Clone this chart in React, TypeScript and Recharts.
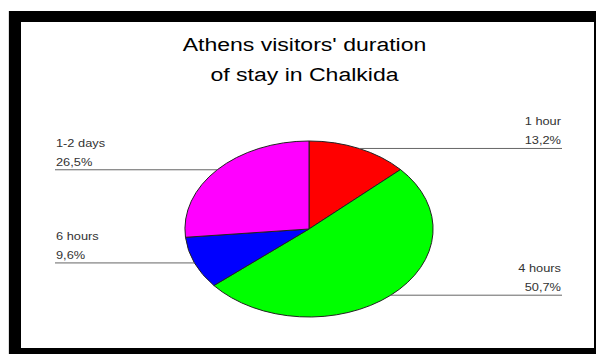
import React from 'react';
import { PieChart, Pie, Cell } from 'recharts';

const categories = ['1 hour', '4 hours', '6 hours', '1-2 days'];
const shares = [13.2, 50.7, 9.6, 26.5];
const colors = ['#ff0000', '#00ff00', '#0000ff', '#ff00ff'];
const titleLines = ["Athens visitors' duration", 'of stay in Chalkida'];

const data = categories.map((name, i) => ({ name, value: shares[i] }));

const W = 596;
const H = 354;
const ASPECT = 1.41;
const TEXT_STRETCH = 1.28;
const RAD = Math.PI / 180;
const FONT = '"Liberation Sans", Arial, sans-serif';

const EllipseSector = (props: any) => {
  const { cx, cy, outerRadius, startAngle, endAngle, fill } = props;
  const rx = outerRadius * ASPECT;
  const ry = outerRadius;
  const pt = (a: number) => [cx + rx * Math.cos(a * RAD), cy - ry * Math.sin(a * RAD)];
  const [x1, y1] = pt(startAngle);
  const [x2, y2] = pt(endAngle);
  const large = Math.abs(endAngle - startAngle) > 180 ? 1 : 0;
  const sweep = endAngle < startAngle ? 1 : 0;
  const d = `M${cx},${cy} L${x1},${y1} A${rx},${ry} 0 ${large} ${sweep} ${x2},${y2} Z`;
  return <path d={d} fill={fill} stroke="#222" strokeWidth={1} />;
};

const renderLabel = (props: any) => {
  const { cx, cy, midAngle, outerRadius, name, value } = props;
  const rx = outerRadius * ASPECT;
  const ry = outerRadius;
  const right = Math.cos(midAngle * RAD) >= 0;
  const y = cy - ry * Math.sin(midAngle * RAD);
  const t = Math.max(-1, Math.min(1, (y - cy) / ry));
  const edge = rx * Math.sqrt(1 - t * t);
  const xEdge = right ? cx + edge : cx - edge;
  const xOut = right ? 562 : 55;
  const anchor = right ? 'end' : 'start';
  const tx = right ? xOut - 1 : xOut + 1;
  const pct = value.toFixed(1).replace('.', ',') + '%';
  return (
    <g>
      <line x1={xEdge} y1={y} x2={xOut} y2={y} stroke="#666" strokeWidth={1} />
      <text
        transform={`translate(${tx},${y - 23}) scale(${TEXT_STRETCH},1)`}
        textAnchor={anchor}
        fontSize={10}
        fontFamily={FONT}
        fill="#333"
      >
        {name}
      </text>
      <text
        transform={`translate(${tx},${y - 4}) scale(${TEXT_STRETCH},1)`}
        textAnchor={anchor}
        fontSize={10}
        fontFamily={FONT}
        fill="#333"
      >
        {pct}
      </text>
    </g>
  );
};

export default function App() {
  return (
    <div style={{ position: 'absolute', left: 0, top: 0, width: W, height: H, background: '#fff', overflow: 'hidden' }}>
      <div style={{ position: 'absolute', left: 8, top: 11, width: 1, height: H - 11, background: '#ddd' }} />
      <div style={{ position: 'absolute', left: 9, top: 11, width: W - 9, height: H - 11, background: '#000' }} />
      <div style={{ position: 'absolute', left: 21, top: 22, width: 594 - 21, height: 348 - 22, background: '#fff' }} />
      <div style={{ position: 'absolute', left: 0, top: 0 }}>
        <PieChart width={W} height={H} margin={{ top: 0, right: 0, bottom: 0, left: 0 }}>
          <Pie
            data={data}
            dataKey="value"
            nameKey="name"
            cx={309}
            cy={229}
            outerRadius={88}
            startAngle={90}
            endAngle={-270}
            shape={EllipseSector}
            label={renderLabel}
            labelLine={false}
            isAnimationActive={false}
          >
            {data.map((d, i) => (
              <Cell key={d.name} fill={colors[i]} />
            ))}
          </Pie>
        </PieChart>
      </div>
      <svg width={W} height={H} style={{ position: 'absolute', left: 0, top: 0, pointerEvents: 'none' }}>
        {titleLines.map((line, i) => (
          <text
            key={i}
            transform={`translate(304.5,${51 + i * 30}) scale(${TEXT_STRETCH},1)`}
            textAnchor="middle"
            fontSize={18}
            fontFamily={FONT}
            fill="#000"
          >
            {line}
          </text>
        ))}
      </svg>
    </div>
  );
}
